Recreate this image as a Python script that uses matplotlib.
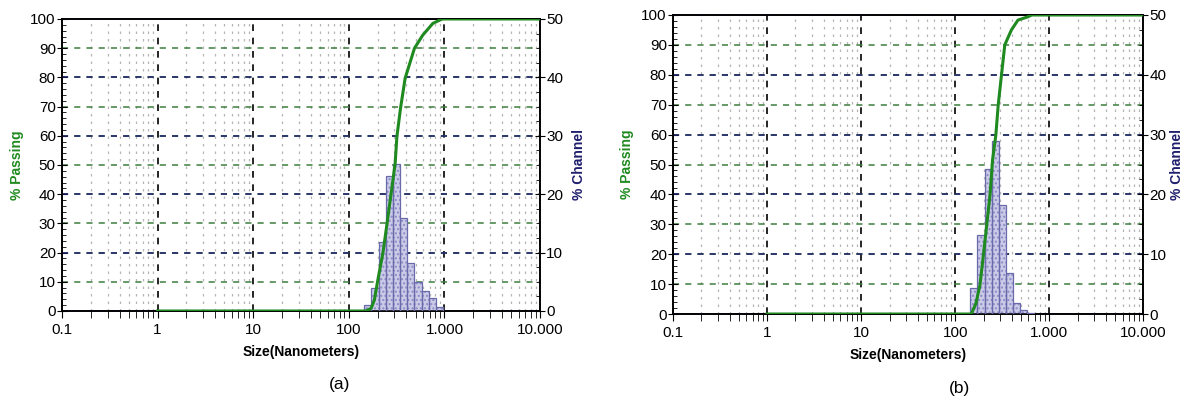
import numpy as np
import matplotlib
matplotlib.use("Agg")
from matplotlib import pyplot as plt
from matplotlib import ticker

plt.rcParams['font.family'] = ['Liberation Sans', 'DejaVu Sans']

# channel edges (nm) shared by both samples
edges = [145, 172, 205, 243, 289, 344, 409, 486, 578, 687, 817, 972]

# (a) % channel and cumulative % passing
chan_a = [1.0, 3.9, 11.8, 23.1, 25.1, 16.0, 8.3, 5.0, 3.4, 2.3, 0.6]
size_a = [1, 150, 171, 185, 201, 227, 251, 277, 305, 318, 347, 388, 486, 594, 757, 865, 950, 10000]
pass_a = [0, 0, 0.9, 3.8, 10.6, 19.8, 30, 40.3, 50.5, 59.7, 69.4, 79.7, 90, 94.5, 98.5, 99.4, 100, 100]

# (b)
chan_b = [4.4, 13.2, 24.2, 28.9, 18.3, 6.9, 1.8, 0.7, 0.2]
size_b = [1, 148, 166, 183, 199, 216, 234, 249, 270, 286, 310, 336, 395, 464, 592, 650, 10000]
pass_b = [0, 0, 3.6, 9.7, 19.7, 29.8, 39.8, 51.5, 59.9, 69.9, 80, 90, 95, 98.3, 99.4, 100, 100]

xticks = [0.1, 1, 10, 100, 1000, 10000]
xlabels = ['0.1', '1', '10', '100', '1.000', '10.000']

GREEN = '#1f8a1f'
GRID_GREEN = '#3d7d3d'
NAVY = '#1f1f6e'


def panel(fig, rect, chan, size, pas, tag, tagpos, lx, rx):
    ax = fig.add_axes(rect)
    ax.set_xscale('log')
    ax.set_xlim(0.1, 10000)
    ax.set_ylim(0, 100)
    ax.set_xticks(xticks)
    ax.xaxis.set_major_formatter(ticker.FixedFormatter(xlabels))
    ax.xaxis.set_minor_locator(ticker.LogLocator(base=10, subs=np.arange(2, 10)))
    ax.xaxis.set_minor_formatter(ticker.NullFormatter())
    ax.set_yticks(np.arange(0, 101, 10))
    ax.yaxis.set_minor_locator(ticker.MultipleLocator(2))
    ax.grid(which='major', axis='x', color='black', ls=(0, (4, 4)), lw=1.2)
    ax.grid(which='minor', axis='x', color='#b5b5b5', ls=(0, (2, 4)), lw=0.9)
    ax.grid(which='major', axis='y', color=GRID_GREEN, ls=(0, (4, 4)), lw=1.1)
    ax.set_axisbelow(True)
    ax.tick_params(axis='y', which='major', direction='inout', length=7, labelsize=11, pad=1)
    ax.tick_params(axis='y', which='minor', direction='in', length=3)
    ax.tick_params(axis='x', which='major', direction='out', length=5, labelsize=11)
    ax.tick_params(axis='x', which='minor', direction='out', length=5)
    ax.set_xlabel('Size(Nanometers)', fontsize=10, fontweight='bold', labelpad=6)

    ax2 = ax.twinx()
    ax2.set_ylim(0, 50)
    ax2.set_yticks(np.arange(0, 51, 10))
    ax2.yaxis.set_minor_locator(ticker.MultipleLocator(2.5))
    ax2.grid(which='major', axis='y', color=NAVY, ls=(0, (4, 4)), lw=1.1)
    ax2.set_axisbelow(True)
    ax2.tick_params(axis='y', which='major', direction='inout', length=7, labelsize=11, pad=1)
    ax2.tick_params(axis='y', which='minor', direction='in', length=3)

    left = edges[:len(chan)]
    widths = np.diff(edges[:len(chan) + 1])
    ax2.bar(left, chan, width=widths, align='edge', color='#cbcbe8',
            edgecolor='#8c8cc8', hatch='....', lw=0, zorder=2)
    ax2.bar(left, chan, width=widths, align='edge', fill=False,
            edgecolor='#6a6aaa', lw=0.9, zorder=3)
    ax2.plot(size, pas, color=GREEN, lw=2.2, transform=ax.transData, zorder=4)
    ax2.set_xlim(0.1, 10000)
    ax2.set_ylim(0, 50)

    for a in (ax, ax2):
        for s in a.spines.values():
            s.set_linewidth(1.2)

    ymid = rect[1] + rect[3] / 2
    fig.text(lx, ymid, '% Passing', fontsize=10, fontweight='bold', color=GREEN,
             rotation=90, ha='center', va='center')
    fig.text(rx, ymid, '% Channel', fontsize=10, fontweight='bold', color=NAVY,
             rotation=90, ha='center', va='center')
    fig.text(tagpos[0], tagpos[1], tag, fontsize=12.5, ha='center', va='center')


fig = plt.figure(figsize=(11.88, 4.03), dpi=100)
panel(fig, [0.0522, 0.2283, 0.4024, 0.7246], chan_a, size_a, pass_a, '(a)', (0.286, 0.045),
      0.0143, 0.4870)
panel(fig, [0.5665, 0.2208, 0.3960, 0.7420], chan_b, size_b, pass_b, '(b)', (0.808, 0.037),
      0.5278, 0.9905)
fig.savefig('out.png', dpi=100)
